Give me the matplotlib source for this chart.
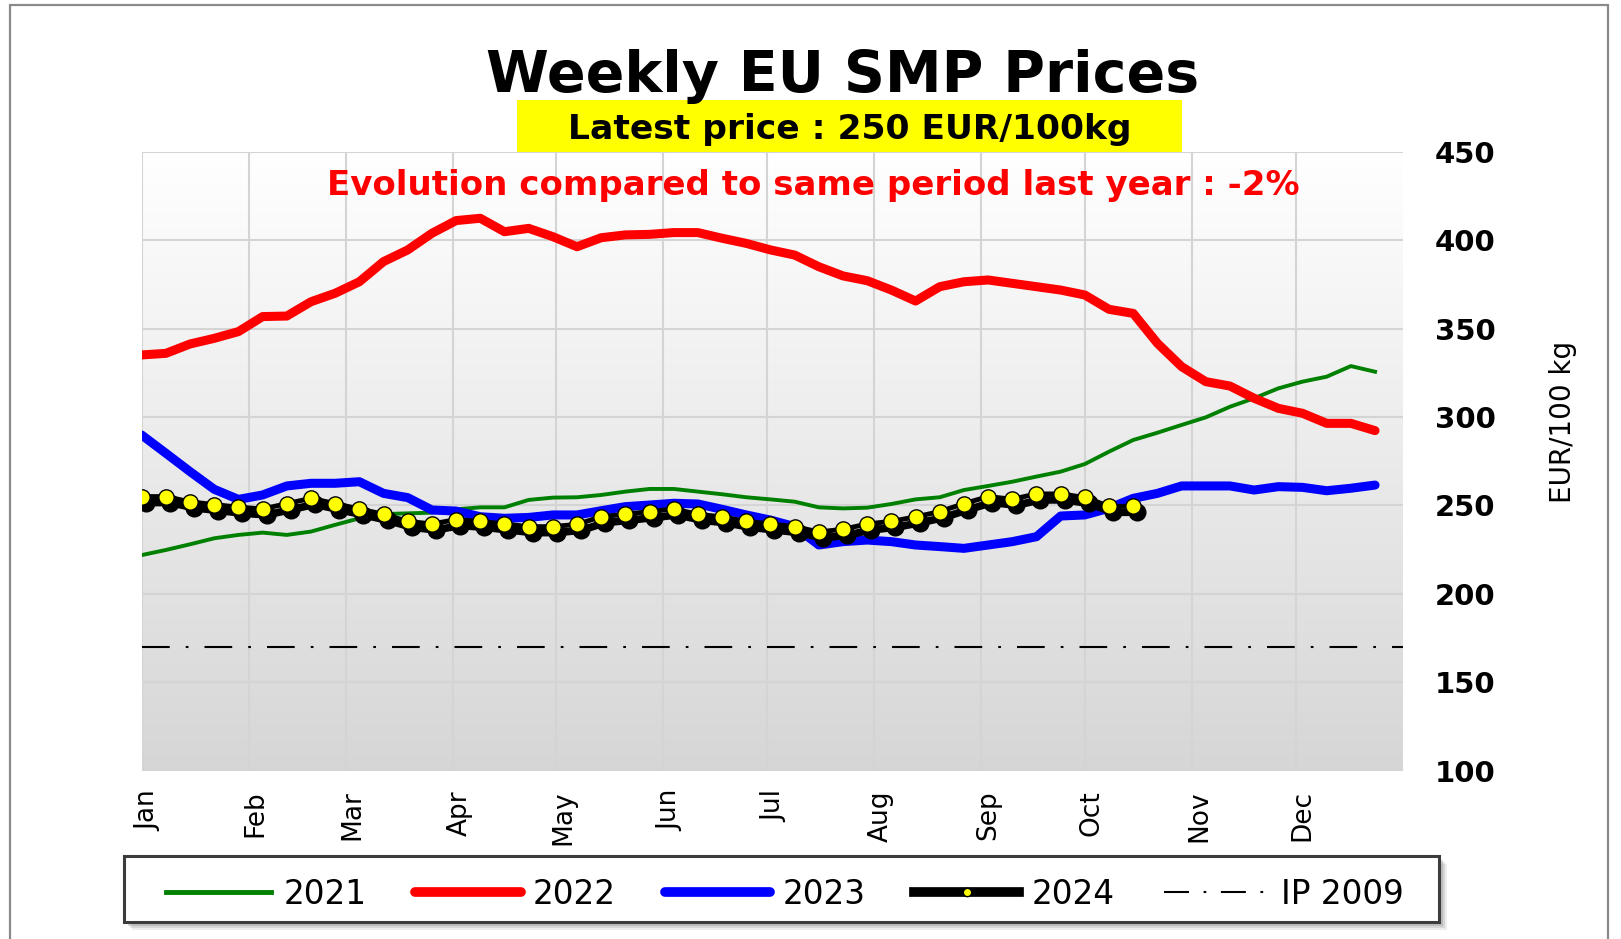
import numpy as np
import matplotlib
matplotlib.use("Agg")
import matplotlib.pyplot as plt
from matplotlib.colors import LinearSegmentedColormap
from matplotlib.patches import Rectangle
from matplotlib.lines import Line2D
from matplotlib.transforms import offset_copy, ScaledTranslation

# ---------------- data ----------------
months = ["Jan", "Feb", "Mar", "Apr", "May", "Jun", "Jul", "Aug", "Sep", "Oct", "Nov", "Dec"]
month_start_day = [0, 31, 59, 90, 120, 151, 181, 212, 243, 273, 304, 334]

p2021 = [221.9, 224.8, 228, 231.4, 233.3, 234.6, 233.3, 235.2, 239, 242.7,
         245.1, 245.5, 245.9, 247.8, 248.9, 248.9, 253.1, 254.4, 254.6, 255.9,
         257.8, 259.3, 259.3, 257.8, 256.3, 254.6, 253.4, 252.1, 248.9, 248.3,
         248.7, 250.8, 253.4, 254.6, 258.7, 261, 263.4, 266.3, 269.1, 273.4,
         280.4, 287, 291.1, 295.5, 299.8, 305.8, 310.6, 316.2, 320, 322.8,
         328.8, 325.6]
p2022 = [335.1, 336, 341.3, 344.5, 348.3, 356.8, 357.1, 365.2, 370, 376.5,
         387.9, 394.5, 403.9, 411.1, 412.4, 404.8, 406.7, 402, 396.3, 401.4,
         403, 403.3, 404.3, 404.3, 401.1, 398.2, 394.5, 391.6, 385, 379.8,
         377.1, 371.8, 365.6, 373.7, 376.5, 377.5, 375.6, 373.7, 371.8, 369,
         360.9, 358.6, 341.7, 328.5, 320, 317.5, 310.6, 304.9, 302.1, 296.4,
         296.4, 292.3]
p2023 = [289.8, 279.5, 269.1, 259.1, 253.4, 255.9, 261, 262.5, 262.5, 263.4,
         256.8, 254.4, 247.4, 246.8, 243.6, 242.7, 243.2, 244.6, 244.6, 247,
         249.3, 250.2, 251.2, 250.8, 247.8, 244.6, 241.7, 238, 227.6, 229.5,
         230.4, 229.5, 227.6, 226.7, 225.7, 227.6, 229.5, 232.3, 244, 244.6,
         248.4, 254, 256.8, 261, 261, 261, 258.7, 260.6, 260.2, 258.3,
         259.7, 261.5]
p2024 = [255, 255, 252, 250.5, 249, 248, 251, 254, 251, 248,
         245, 241, 239.5, 242, 241, 239.5, 238, 238, 239.3, 243.6,
         245, 246.5, 248, 245, 243.5, 241, 239.5, 238, 235, 236.5,
         239.5, 241, 243.5, 246.5, 251, 255, 253.5, 256.5, 256.5, 254.5,
         249.5, 249.5]
ip_2009 = 169.8
y_ticks = [100, 150, 200, 250, 300, 350, 400, 450]
legend_labels = ["2021", "2022", "2023", "2024", "IP 2009"]

title = "Weekly EU SMP Prices"
latest_text = "Latest price : 250 EUR/100kg"
evolution_text = "Evolution compared to same period last year : -2%"
y_label = "EUR/100 kg"

# ---------------- layout helpers ----------------
W, H = 1621, 939
def fx(x):
    return x / W
def fy(y):
    return 1 - y / H

plt.rcParams["font.family"] = ["DejaVu Sans"]

fig = plt.figure(figsize=(W / 100, H / 100), dpi=100)
fig.patch.set_facecolor("white")

# outer frame
frame = Rectangle((fx(10), fy(960)), fx(1608) - fx(10), fy(5) - fy(960),
                  transform=fig.transFigure, facecolor="none",
                  edgecolor="#8a8a8a", linewidth=1.6, zorder=0)
fig.patches.append(frame)

ax_left, ax_right, ax_top, ax_bottom = 141.7, 1402.7, 151.8, 770.6
ax = fig.add_axes([fx(ax_left), fy(ax_bottom), (ax_right - ax_left) / W,
                   (ax_bottom - ax_top) / H])

weeks21 = np.arange(len(p2021))
weeks24 = np.arange(len(p2024))
xmax = 365 / 7

# background gradient
cmap = LinearSegmentedColormap.from_list("bg", ["#d6d6d6", "#ffffff"])
grad = np.linspace(0, 1, 256).reshape(-1, 1)
ax.imshow(grad, extent=[0, xmax, 100, 450], aspect="auto", cmap=cmap,
          origin="lower", zorder=0, interpolation="bicubic")

ax.set_xlim(0, xmax)
ax.set_ylim(100, 450)

month_pos = [d / 7 for d in month_start_day]
ax.set_xticks(month_pos)
ax.set_xticklabels(months, rotation=90, fontsize=19)
ax.set_yticks(y_ticks)
ax.set_yticklabels([str(v) for v in y_ticks], fontsize=21, fontweight="bold")
ax.yaxis.tick_right()
ax.tick_params(axis="both", length=0)
ax.tick_params(axis="x", pad=14)
ax.tick_params(axis="y", pad=23)
for lab in ax.get_yticklabels():
    lab.set_horizontalalignment("left")
shift = ScaledTranslation(7 / 100, 0, fig.dpi_scale_trans)
for lab in ax.get_xticklabels():
    lab.set_transform(lab.get_transform() + shift)
for s in ax.spines.values():
    s.set_visible(False)
ax.grid(True, color="#d4d4d4", linewidth=1.5, zorder=1)
ax.set_axisbelow(True)

# series
ax.axhline(ip_2009, color="black", linewidth=1.5,
           dashes=(13.3, 7.7, 1.3, 7.7), zorder=2)
ax.plot(weeks21, p2021, color="#008000", linewidth=2.8, zorder=3)
ax.plot(weeks21, p2022, color="#ff0000", linewidth=6.5, zorder=3,
        solid_capstyle="round", solid_joinstyle="round")
ax.plot(weeks21, p2023, color="#0000ff", linewidth=6.5, zorder=3,
        solid_capstyle="round", solid_joinstyle="round")
shadow_tr = offset_copy(ax.transData, fig=fig, x=4, y=-6, units="dots")
ax.plot(weeks24, p2024, color="black", linewidth=5.5, marker="o",
        markersize=12, transform=shadow_tr, zorder=4)
ax.plot(weeks24, p2024, color="black", linewidth=3.5, marker="o",
        markersize=11, markerfacecolor="#ffff00",
        markeredgecolor="black", markeredgewidth=1.0, zorder=5)

# texts
fig.text(fx(843), fy(92), title, ha="center", va="baseline",
         fontsize=41, fontweight="bold", color="black")
box = Rectangle((fx(517), fy(152)), (1182 - 517) / W, (152 - 100) / H,
                transform=fig.transFigure, facecolor="#ffff00",
                edgecolor="none", zorder=2)
fig.patches.append(box)
fig.text(fx(849.5), fy(139.5), latest_text, ha="center", va="baseline",
         fontsize=24.8, fontweight="bold", color="black", zorder=4)
fig.text(fx(813.6), fy(195.5), evolution_text, ha="center", va="baseline",
         fontsize=24.5, fontweight="bold", color="#ff0000", zorder=6)
fig.text(fx(1563), fy(408 * 1.0338), y_label, rotation=90, ha="center",
         va="center", fontsize=20, color="black")

# legend frame with soft shadow
lx0, ly0, lx1, ly1 = 124, 856, 1439, 922
for k, a in [(8, 0.12), (6, 0.18), (4, 0.25)]:
    sh = Rectangle((fx(lx0 + k), fy(ly1 + k)), (lx1 - lx0) / W, (ly1 - ly0) / H,
                   transform=fig.transFigure, facecolor="#707070",
                   edgecolor="none", alpha=a, zorder=1)
    fig.patches.append(sh)
lframe = Rectangle((fx(lx0), fy(ly1)), (lx1 - lx0) / W, (ly1 - ly0) / H,
                   transform=fig.transFigure, facecolor="white",
                   edgecolor="#3c3c3c", linewidth=2.2, zorder=2)
fig.patches.append(lframe)

h21 = Line2D([], [], color="#008000", linewidth=3.5)
h22 = Line2D([], [], color="#ff0000", linewidth=7, solid_capstyle="round")
h23 = Line2D([], [], color="#0000ff", linewidth=7, solid_capstyle="round")
h24 = Line2D([], [], color="black", linewidth=7, marker="o", markersize=6,
             markerfacecolor="#ffff00", markeredgecolor="black",
             markeredgewidth=1.0)
h_ip = Line2D([], [], color="black", linewidth=1.5, dashes=(12, 7, 1.3, 7))
leg = fig.legend([h21, h22, h23, h24, h_ip], legend_labels,
                 loc="center left", ncol=5, frameon=False,
                 bbox_to_anchor=(fx(166), fy(894)),
                 bbox_transform=fig.transFigure,
                 fontsize=23.5, handlelength=3.22, handletextpad=0.38,
                 columnspacing=1.5, borderpad=0, borderaxespad=0)
leg.set_zorder(5)

fig.savefig("out.png", dpi=100)
